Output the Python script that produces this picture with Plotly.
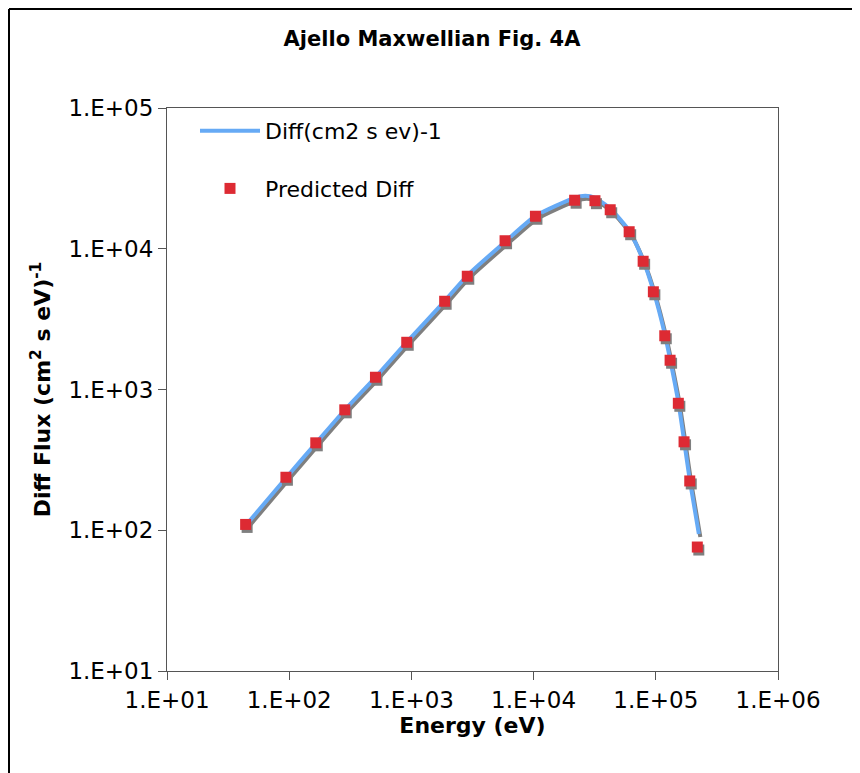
import plotly.graph_objects as go

energy = [44, 94, 165, 285, 508, 916, 1871, 2866, 5840, 10350, 21670, 31770,
          42360, 60540, 78780, 95500, 118400, 130900, 152900, 170300, 189600, 218600]
predicted = [110, 238, 418, 717, 1222, 2165, 4236, 6378, 11400, 17020, 22120, 21950,
             18930, 13210, 8150, 4946, 2409, 1614, 798, 425, 224, 76]

# smooth curve "Diff(cm2 s ev)-1"
line_energy = [44, 94, 165, 285, 508, 916, 1871, 2866, 5840, 10350, 21670, 26500,
               31770, 42360, 60540, 78780, 95500, 118400, 130900, 152900, 170300,
               189600, 225000]
line_flux = [108, 235, 415, 715, 1220, 2170, 4250, 6450, 11200, 17100, 23000, 23800,
             23000, 19300, 13400, 8300, 5050, 2480, 1640, 815, 435, 228, 94]

tick_x = [1e1, 1e2, 1e3, 1e4, 1e5, 1e6]
tick_x_text = ["1.E+01", "1.E+02", "1.E+03", "1.E+04", "1.E+05", "1.E+06"]
tick_y = [1e1, 1e2, 1e3, 1e4, 1e5]
tick_y_text = ["1.E+01", "1.E+02", "1.E+03", "1.E+04", "1.E+05"]

# page body adds 8px, so work in screen pixels minus that
OFF = 8
W, H = 860, 773
L, T, R, B = 167 - OFF, 108 - OFF, 778 - OFF, 671 - OFF
DEC_X = (R - L) / 5
DEC_Y = (B - T) / 4

# Excel-style drop shadow: shift by a few pixels (right, down)
sx = 10 ** (1.5 / DEC_X)
sy = 10 ** (-3.0 / DEC_Y)

font = "DejaVu Sans, Verdana, sans-serif"
blue = "#66aaf5"
red = "#dd2a33"
shadow = "#7f7f7f"

fig = go.Figure()

fig.add_trace(go.Scatter(
    x=[e * sx for e in line_energy], y=[f * sy for f in line_flux],
    mode="lines", line=dict(color=shadow, width=4, shape="spline", smoothing=0.6),
    showlegend=False, hoverinfo="skip"
))
fig.add_trace(go.Scatter(
    x=line_energy, y=line_flux, name="Diff(cm2 s ev)-1", legendgroup="a",
    mode="lines", line=dict(color=blue, width=4, shape="spline", smoothing=0.6)
))
fig.add_trace(go.Scatter(
    x=[e * sx for e in energy], y=[f * sy for f in predicted],
    mode="markers", marker=dict(symbol="square", size=11, color=shadow),
    showlegend=False, hoverinfo="skip"
))
fig.add_trace(go.Scatter(
    x=energy, y=predicted, name="Predicted Diff", legendgroup="b",
    mode="markers", marker=dict(symbol="square", size=11, color=red)
))

axis_common = dict(
    type="log", showgrid=False, zeroline=False,
    showline=True, linecolor="#555555", linewidth=1, mirror=True,
    ticks="outside", ticklen=8, tickcolor="#555555",
    tickfont=dict(family=font, size=23, color="black"),
)

fig.update_xaxes(
    range=[1, 6], tickvals=tick_x, ticktext=tick_x_text,
    title=dict(text="<b>Energy (eV)</b>", font=dict(family=font, size=22, color="black"),
               standoff=6),
    **axis_common
)
fig.update_yaxes(
    range=[1, 5], tickvals=tick_y, ticktext=tick_y_text,
    title=dict(text="<b>Diff Flux (cm<sup>2</sup> s eV)<sup>-1</sup></b>",
               font=dict(family=font, size=22, color="black"), standoff=11),
    **axis_common
)

def px_x(p):
    return (p - OFF - L) / (R - L)

def px_y(p):
    return (B - (p - OFF)) / (B - T)

fig.update_layout(
    width=W, height=H,
    margin=dict(l=L, r=W - R, t=T, b=H - B, autoexpand=False),
    paper_bgcolor="white", plot_bgcolor="white",
    title=dict(text="<b>Ajello Maxwellian Fig. 4A</b>", x=(432 - OFF) / W, xanchor="center",
               y=1 - (39 - OFF) / H, yanchor="middle",
               font=dict(family=font, size=21, color="black")),
    legend=dict(x=px_x(195), y=px_y(110), xanchor="left", yanchor="top",
                bgcolor="rgba(0,0,0,0)", traceorder="grouped", tracegroupgap=26,
                itemwidth=60,
                font=dict(family=font, size=22, color="black")),
    shapes=[
        # outer chart frame (only top/left fall inside the picture)
        dict(type="line", xref="paper", yref="paper", x0=px_x(OFF + 1), x1=px_x(W + OFF),
             y0=px_y(OFF + 1), y1=px_y(OFF + 1), line=dict(color="black", width=2)),
        dict(type="line", xref="paper", yref="paper", x0=px_x(OFF + 1), x1=px_x(OFF + 1),
             y0=px_y(OFF + 1), y1=px_y(H + OFF), line=dict(color="black", width=2)),
    ],
)

fig.write_html("out.html")
